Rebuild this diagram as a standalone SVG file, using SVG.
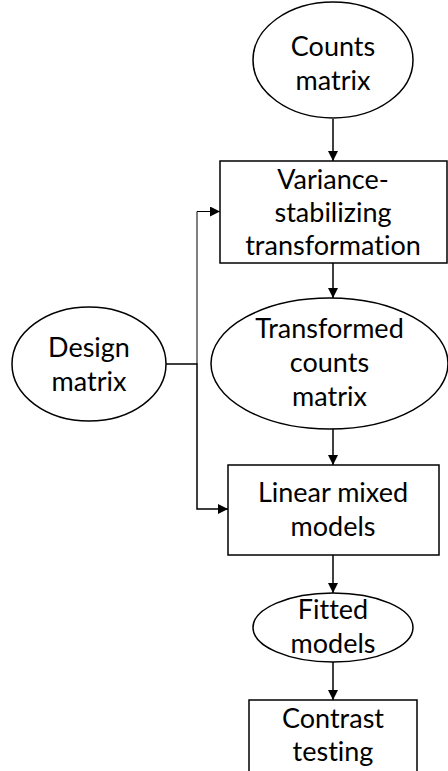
<svg xmlns="http://www.w3.org/2000/svg" width="448" height="771" viewBox="0 0 448 771">
  <style>
    .shape { fill: #ffffff; stroke: #000000; stroke-width: 1.5; }
    .label { font-family: Lato, "Open Sans", "Liberation Sans", sans-serif; font-size: 27px; fill: #000000; text-anchor: middle; font-variant-ligatures: none; font-feature-settings: "liga" 0, "dlig" 0; }
    .wire { fill: none; stroke: #000000; stroke-width: 1.5; }
    .wire-thin { fill: none; stroke: #000000; stroke-width: 1; }
  </style>
  <defs>
    <marker id="arrow-lg" viewBox="0 0 10 10" refX="10" refY="5" markerWidth="10" markerHeight="10" markerUnits="userSpaceOnUse" orient="auto">
      <path d="M0,0 L10,5 L0,10 z" fill="#000000"/>
    </marker>
  </defs>
  <rect width="448" height="771" fill="#ffffff"/>

  <g id="connectors">
    <line class="wire" x1="333" y1="119" x2="333" y2="161" marker-end="url(#arrow-lg)"/>
    <line class="wire" x1="333" y1="263" x2="333" y2="298" marker-end="url(#arrow-lg)"/>
    <line class="wire" x1="333" y1="429" x2="333" y2="465" marker-end="url(#arrow-lg)"/>
    <line class="wire" x1="333" y1="555" x2="333" y2="593" marker-end="url(#arrow-lg)"/>
    <line class="wire" x1="333" y1="662" x2="333" y2="700" marker-end="url(#arrow-lg)"/>
    <polyline class="wire" points="166,364 197,364 197,509 228,509" marker-end="url(#arrow-lg)"/>
    <polyline class="wire-thin" points="197,364 197,211.5 220,211.5" marker-end="url(#arrow-lg)"/>
  </g>

  <g id="counts-matrix">
    <ellipse class="shape" cx="333" cy="60" rx="80" ry="58"/>
    <text class="label" x="333" y="56">Counts</text>
    <text class="label" x="333" y="90">matrix</text>
  </g>

  <g id="variance-stabilizing">
    <rect class="shape" x="220" y="161" width="227" height="102"/>
    <text class="label" x="333" y="189">Variance-</text>
    <text class="label" x="333" y="222">stabilizing</text>
    <text class="label" x="333" y="255">transformation</text>
  </g>

  <g id="design-matrix">
    <ellipse class="shape" cx="89" cy="364" rx="77" ry="57"/>
    <text class="label" x="89" y="357">Design</text>
    <text class="label" x="89" y="391">matrix</text>
  </g>

  <g id="transformed-counts">
    <ellipse class="shape" cx="329.5" cy="363.5" rx="118.5" ry="65.5"/>
    <text class="label" x="329.5" y="338">Transformed</text>
    <text class="label" x="329.5" y="372">counts</text>
    <text class="label" x="329.5" y="406">matrix</text>
  </g>

  <g id="linear-mixed-models">
    <rect class="shape" x="228" y="465" width="211" height="90"/>
    <text class="label" x="333" y="502">Linear mixed</text>
    <text class="label" x="333" y="536">models</text>
  </g>

  <g id="fitted-models">
    <ellipse class="shape" cx="333" cy="627.5" rx="80" ry="34.5"/>
    <text class="label" x="333" y="619">Fitted</text>
    <text class="label" x="333" y="653">models</text>
  </g>

  <g id="contrast-testing">
    <rect class="shape" x="249" y="700" width="168" height="80"/>
    <text class="label" x="333" y="728">Contrast</text>
    <text class="label" x="333" y="761">testing</text>
  </g>
</svg>
